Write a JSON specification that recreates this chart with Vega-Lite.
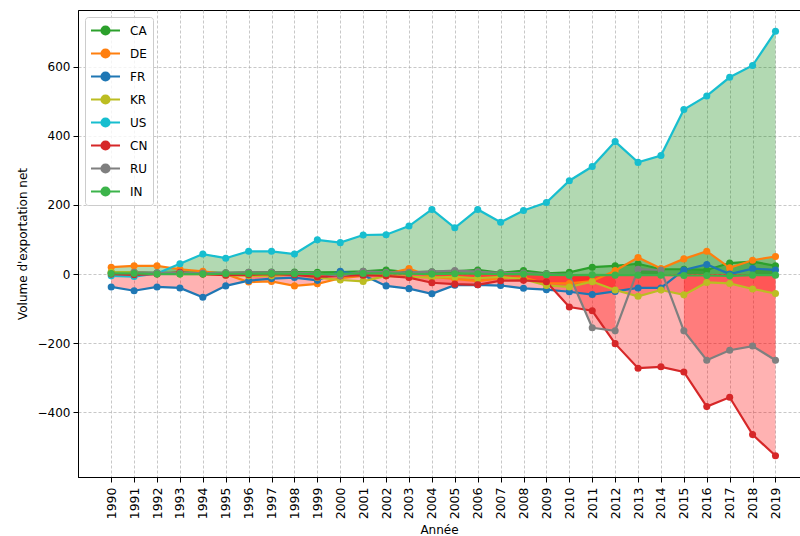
{
  "$schema": "https://vega.github.io/schema/vega-lite/v6.json",
  "width": 722,
  "height": 467,
  "autosize": "none",
  "padding": {"left": 78, "top": 10, "right": 0, "bottom": 59},
  "background": "white",
  "config": {
    "font": "DejaVu Sans",
    "view": {"stroke": "black", "strokeWidth": 1},
    "axis": {
      "labelFont": "DejaVu Sans", "labelFontSize": 12, "labelColor": "black",
      "titleFont": "DejaVu Sans", "titleFontSize": 12, "titleFontWeight": "normal", "titleColor": "black",
      "domainColor": "black", "tickColor": "black", "tickSize": 5, "labelPadding": 3,
      "grid": true, "gridColor": "#b0b0b0", "gridDash": [3, 2], "gridWidth": 0.7
    },
    "legend": {"labelFont": "DejaVu Sans", "labelFontSize": 12, "labelColor": "black"}
  },
  "data": {"values": [
    {"country":"CA","year":1990,"value":5},{"country":"CA","year":1991,"value":5},{"country":"CA","year":1992,"value":4},{"country":"CA","year":1993,"value":4},{"country":"CA","year":1994,"value":5},{"country":"CA","year":1995,"value":4},{"country":"CA","year":1996,"value":5},{"country":"CA","year":1997,"value":6},{"country":"CA","year":1998,"value":6},{"country":"CA","year":1999,"value":5},{"country":"CA","year":2000,"value":6},{"country":"CA","year":2001,"value":8},{"country":"CA","year":2002,"value":12},{"country":"CA","year":2003,"value":5},{"country":"CA","year":2004,"value":7},{"country":"CA","year":2005,"value":8},{"country":"CA","year":2006,"value":12},{"country":"CA","year":2007,"value":4},{"country":"CA","year":2008,"value":10},{"country":"CA","year":2009,"value":2},{"country":"CA","year":2010,"value":5},{"country":"CA","year":2011,"value":20},{"country":"CA","year":2012,"value":24},{"country":"CA","year":2013,"value":30},{"country":"CA","year":2014,"value":14},{"country":"CA","year":2015,"value":14},{"country":"CA","year":2016,"value":12},{"country":"CA","year":2017,"value":32},{"country":"CA","year":2018,"value":36},{"country":"CA","year":2019,"value":24},
    {"country":"DE","year":1990,"value":20},{"country":"DE","year":1991,"value":24},{"country":"DE","year":1992,"value":24},{"country":"DE","year":1993,"value":14},{"country":"DE","year":1994,"value":8},{"country":"DE","year":1995,"value":0},{"country":"DE","year":1996,"value":-23},{"country":"DE","year":1997,"value":-21},{"country":"DE","year":1998,"value":-34},{"country":"DE","year":1999,"value":-28},{"country":"DE","year":2000,"value":-12},{"country":"DE","year":2001,"value":-5},{"country":"DE","year":2002,"value":0},{"country":"DE","year":2003,"value":16},{"country":"DE","year":2004,"value":-8},{"country":"DE","year":2005,"value":-14},{"country":"DE","year":2006,"value":-20},{"country":"DE","year":2007,"value":-12},{"country":"DE","year":2008,"value":-10},{"country":"DE","year":2009,"value":-27},{"country":"DE","year":2010,"value":-27},{"country":"DE","year":2011,"value":-20},{"country":"DE","year":2012,"value":10},{"country":"DE","year":2013,"value":48},{"country":"DE","year":2014,"value":16},{"country":"DE","year":2015,"value":44},{"country":"DE","year":2016,"value":66},{"country":"DE","year":2017,"value":18},{"country":"DE","year":2018,"value":40},{"country":"DE","year":2019,"value":51},
    {"country":"FR","year":1990,"value":-37},{"country":"FR","year":1991,"value":-48},{"country":"FR","year":1992,"value":-37},{"country":"FR","year":1993,"value":-40},{"country":"FR","year":1994,"value":-67},{"country":"FR","year":1995,"value":-34},{"country":"FR","year":1996,"value":-19},{"country":"FR","year":1997,"value":-13},{"country":"FR","year":1998,"value":-10},{"country":"FR","year":1999,"value":-18},{"country":"FR","year":2000,"value":8},{"country":"FR","year":2001,"value":-3},{"country":"FR","year":2002,"value":-34},{"country":"FR","year":2003,"value":-42},{"country":"FR","year":2004,"value":-57},{"country":"FR","year":2005,"value":-32},{"country":"FR","year":2006,"value":-31},{"country":"FR","year":2007,"value":-33},{"country":"FR","year":2008,"value":-41},{"country":"FR","year":2009,"value":-45},{"country":"FR","year":2010,"value":-51},{"country":"FR","year":2011,"value":-59},{"country":"FR","year":2012,"value":-50},{"country":"FR","year":2013,"value":-40},{"country":"FR","year":2014,"value":-40},{"country":"FR","year":2015,"value":12},{"country":"FR","year":2016,"value":28},{"country":"FR","year":2017,"value":0},{"country":"FR","year":2018,"value":16},{"country":"FR","year":2019,"value":12},
    {"country":"KR","year":1990,"value":5},{"country":"KR","year":1991,"value":5},{"country":"KR","year":1992,"value":2},{"country":"KR","year":1993,"value":0},{"country":"KR","year":1994,"value":0},{"country":"KR","year":1995,"value":-3},{"country":"KR","year":1996,"value":-5},{"country":"KR","year":1997,"value":-5},{"country":"KR","year":1998,"value":0},{"country":"KR","year":1999,"value":-10},{"country":"KR","year":2000,"value":-17},{"country":"KR","year":2001,"value":-21},{"country":"KR","year":2002,"value":-5},{"country":"KR","year":2003,"value":-8},{"country":"KR","year":2004,"value":-10},{"country":"KR","year":2005,"value":-8},{"country":"KR","year":2006,"value":-12},{"country":"KR","year":2007,"value":-8},{"country":"KR","year":2008,"value":-15},{"country":"KR","year":2009,"value":-33},{"country":"KR","year":2010,"value":-37},{"country":"KR","year":2011,"value":-22},{"country":"KR","year":2012,"value":-46},{"country":"KR","year":2013,"value":-64},{"country":"KR","year":2014,"value":-46},{"country":"KR","year":2015,"value":-60},{"country":"KR","year":2016,"value":-24},{"country":"KR","year":2017,"value":-27},{"country":"KR","year":2018,"value":-43},{"country":"KR","year":2019,"value":-56},
    {"country":"US","year":1990,"value":-5},{"country":"US","year":1991,"value":-7},{"country":"US","year":1992,"value":2},{"country":"US","year":1993,"value":30},{"country":"US","year":1994,"value":58},{"country":"US","year":1995,"value":46},{"country":"US","year":1996,"value":66},{"country":"US","year":1997,"value":66},{"country":"US","year":1998,"value":58},{"country":"US","year":1999,"value":99},{"country":"US","year":2000,"value":91},{"country":"US","year":2001,"value":113},{"country":"US","year":2002,"value":114},{"country":"US","year":2003,"value":139},{"country":"US","year":2004,"value":187},{"country":"US","year":2005,"value":134},{"country":"US","year":2006,"value":187},{"country":"US","year":2007,"value":150},{"country":"US","year":2008,"value":184},{"country":"US","year":2009,"value":207},{"country":"US","year":2010,"value":270},{"country":"US","year":2011,"value":311},{"country":"US","year":2012,"value":383},{"country":"US","year":2013,"value":323},{"country":"US","year":2014,"value":343},{"country":"US","year":2015,"value":476},{"country":"US","year":2016,"value":515},{"country":"US","year":2017,"value":569},{"country":"US","year":2018,"value":603},{"country":"US","year":2019,"value":702},
    {"country":"CN","year":1990,"value":0},{"country":"CN","year":1991,"value":-2},{"country":"CN","year":1992,"value":0},{"country":"CN","year":1993,"value":5},{"country":"CN","year":1994,"value":0},{"country":"CN","year":1995,"value":-3},{"country":"CN","year":1996,"value":-2},{"country":"CN","year":1997,"value":0},{"country":"CN","year":1998,"value":-2},{"country":"CN","year":1999,"value":-8},{"country":"CN","year":2000,"value":-5},{"country":"CN","year":2001,"value":-3},{"country":"CN","year":2002,"value":-5},{"country":"CN","year":2003,"value":-10},{"country":"CN","year":2004,"value":-25},{"country":"CN","year":2005,"value":-29},{"country":"CN","year":2006,"value":-31},{"country":"CN","year":2007,"value":-19},{"country":"CN","year":2008,"value":-18},{"country":"CN","year":2009,"value":-22},{"country":"CN","year":2010,"value":-95},{"country":"CN","year":2011,"value":-106},{"country":"CN","year":2012,"value":-201},{"country":"CN","year":2013,"value":-272},{"country":"CN","year":2014,"value":-268},{"country":"CN","year":2015,"value":-283},{"country":"CN","year":2016,"value":-383},{"country":"CN","year":2017,"value":-356},{"country":"CN","year":2018,"value":-464},{"country":"CN","year":2019,"value":-525},
    {"country":"RU","year":1991,"value":5},{"country":"RU","year":1992,"value":4},{"country":"RU","year":1993,"value":3},{"country":"RU","year":1994,"value":3},{"country":"RU","year":1995,"value":4},{"country":"RU","year":1996,"value":5},{"country":"RU","year":1997,"value":5},{"country":"RU","year":1998,"value":4},{"country":"RU","year":1999,"value":2},{"country":"RU","year":2000,"value":-5},{"country":"RU","year":2001,"value":8},{"country":"RU","year":2002,"value":5},{"country":"RU","year":2003,"value":5},{"country":"RU","year":2004,"value":7},{"country":"RU","year":2005,"value":10},{"country":"RU","year":2006,"value":7},{"country":"RU","year":2007,"value":3},{"country":"RU","year":2008,"value":3},{"country":"RU","year":2009,"value":0},{"country":"RU","year":2010,"value":-3},{"country":"RU","year":2011,"value":-155},{"country":"RU","year":2012,"value":-164},{"country":"RU","year":2013,"value":14},{"country":"RU","year":2014,"value":12},{"country":"RU","year":2015,"value":-164},{"country":"RU","year":2016,"value":-249},{"country":"RU","year":2017,"value":-220},{"country":"RU","year":2018,"value":-208},{"country":"RU","year":2019,"value":-249},
    {"country":"IN","year":1990,"value":2},{"country":"IN","year":1991,"value":2},{"country":"IN","year":1992,"value":0},{"country":"IN","year":1993,"value":0},{"country":"IN","year":1994,"value":0},{"country":"IN","year":1995,"value":1},{"country":"IN","year":1996,"value":1},{"country":"IN","year":1997,"value":2},{"country":"IN","year":1998,"value":1},{"country":"IN","year":1999,"value":0},{"country":"IN","year":2000,"value":1},{"country":"IN","year":2001,"value":2},{"country":"IN","year":2002,"value":2},{"country":"IN","year":2003,"value":1},{"country":"IN","year":2004,"value":0},{"country":"IN","year":2005,"value":1},{"country":"IN","year":2006,"value":1},{"country":"IN","year":2007,"value":0},{"country":"IN","year":2008,"value":0},{"country":"IN","year":2009,"value":-2},{"country":"IN","year":2010,"value":-3},{"country":"IN","year":2011,"value":-2},{"country":"IN","year":2012,"value":-3},{"country":"IN","year":2013,"value":-3},{"country":"IN","year":2014,"value":-3},{"country":"IN","year":2015,"value":-4},{"country":"IN","year":2016,"value":-4},{"country":"IN","year":2017,"value":-5},{"country":"IN","year":2018,"value":-3},{"country":"IN","year":2019,"value":-3}
  ]},
  "encoding": {
    "x": {
      "field": "year", "type": "quantitative", "title": "Année",
      "scale": {"domain": [1988.55, 2020.07], "nice": false, "zero": false},
      "axis": {
        "values": [1990,1991,1992,1993,1994,1995,1996,1997,1998,1999,2000,2001,2002,2003,2004,2005,2006,2007,2008,2009,2010,2011,2012,2013,2014,2015,2016,2017,2018,2019],
        "format": "d", "labelAngle": 270, "labelOverlap": false, "labelFlush": false,
        "labelFontSize": 12.5, "labelPadding": 5, "titlePadding": 6
      }
    },
    "y": {
      "field": "value", "type": "quantitative", "title": "Volume d'exportation net",
      "scale": {"domain": [-586.5, 763.5], "nice": false, "zero": false},
      "axis": {"values": [-400, -200, 0, 200, 400, 600], "titlePadding": 8}
    }
  },
  "layer": [
    {
      "transform": [
        {"filter": "datum.value > 0"},
        {"impute": "value", "key": "year", "groupby": ["country"], "method": "value", "value": null}
      ],
      "mark": {"type": "area", "color": "#008000", "opacity": 0.3, "invalid": "break-paths-show-domains"},
      "encoding": {
        "y": {"field": "value", "type": "quantitative", "stack": null},
        "y2": {"datum": 0},
        "detail": {"field": "country"}
      }
    },
    {
      "transform": [
        {"filter": "datum.value < 0"},
        {"impute": "value", "key": "year", "groupby": ["country"], "method": "value", "value": null}
      ],
      "mark": {"type": "area", "color": "#ff0000", "opacity": 0.3, "invalid": "break-paths-show-domains"},
      "encoding": {
        "y": {"field": "value", "type": "quantitative", "stack": null},
        "y2": {"datum": 0},
        "detail": {"field": "country"}
      }
    },
    {
      "mark": {"type": "line", "strokeWidth": 2.2},
      "encoding": {
        "color": {
          "field": "country", "type": "nominal",
          "scale": {
            "domain": ["CA","DE","FR","KR","US","CN","RU","IN"],
            "range": ["#2ca02c","#ff7f0e","#1f77b4","#bcbd22","#17becf","#d62728","#7f7f7f","#3cb44b"]
          },
          "legend": {
            "title": null, "orient": "top-left", "offset": 7, "padding": 5,
            "fillColor": "rgba(255,255,255,0.8)", "strokeColor": "#cccccc", "cornerRadius": 3,
            "symbolType": "M-2.07,0L2.07,0M-0.57,0A0.57,0.57,0,1,0,0.57,0A0.57,0.57,0,1,0,-0.57,0Z",
            "symbolSize": 196, "symbolStrokeWidth": 2.2, "symbolOffset": 7, "labelOffset": 16,
            "rowPadding": 6,
            "encode": {"symbols": {"update": {"fill": {"scale": "color", "field": "value"}, "stroke": {"scale": "color", "field": "value"}, "opacity": {"value": 1}}}}
          }
        }
      }
    },
    {
      "mark": {"type": "point", "filled": true, "size": 50, "opacity": 1},
      "encoding": {
        "color": {"field": "country", "type": "nominal", "legend": null}
      }
    }
  ]
}
